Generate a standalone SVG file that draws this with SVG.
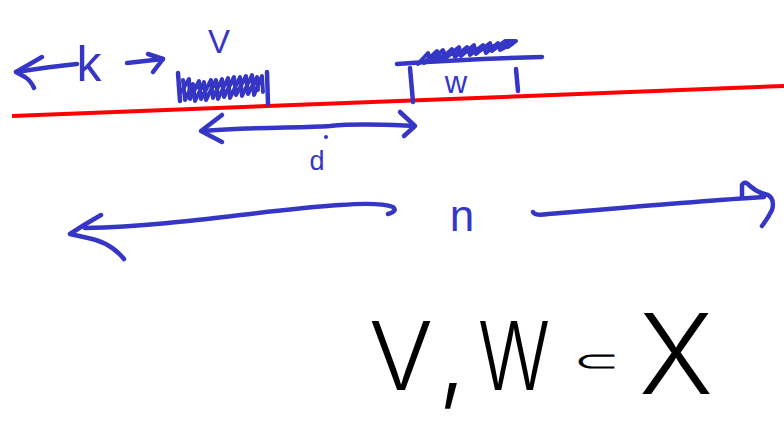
<svg xmlns="http://www.w3.org/2000/svg" width="784" height="425" viewBox="0 0 784 425">
<style>
.ink{fill:none;stroke:#3636c6;stroke-width:4.5;stroke-linecap:round;stroke-linejoin:round}
.hatch{fill:none;stroke:#3636c6;stroke-width:4;stroke-linecap:round;stroke-linejoin:round}
.bt{fill:#3636c6;font-family:"Liberation Sans",Arial,sans-serif;text-anchor:middle}
.kt{fill:#000;font-family:Inter,"Open Sans","Liberation Sans",sans-serif;font-weight:300;text-anchor:middle}
</style>
<rect width="784" height="425" fill="#fff"/>
<g id="axis">
<path d="M12,116 L784,86" fill="none" stroke="#ff0000" stroke-width="4"/>
</g>
<g id="node-V">
<text class="bt" x="219" y="53" font-size="33">V</text>
<path class="ink" d="M178,73 L180,101"/>
<path class="ink" d="M267,72 L268,104"/>
<path class="hatch" d="M183,80 L185,100 L193,84 L195,101 L204,82 L206,100 L216,80 L218,99 L228,78 L230,98 L240,77 L242,96 L252,75 L254,95 L262,76 L263,92"/>
<path class="hatch" d="M181,92 L189,79 L190,99 L199,81 L201,99 L211,80 L213,98 L222,79 L224,97 L234,77 L236,95 L246,76 L248,94 L257,77 L258,90"/>
</g>
<g id="node-W">
<path class="ink" d="M397,64 C440,61 500,58 542,57"/>
<path class="hatch" d="M418,64 L428,53 L431,61 L443,50 L446,58 L459,47 L461,56 L474,45 L476,54 L490,43 L492,51 L505,41 L516,41 L508,47"/>
<path class="hatch" d="M424,63 L437,51 L440,60 L452,49 L455,57 L467,47 L470,55 L483,45 L486,53 L498,43 L500,50 L512,44"/>
<path class="hatch" d="M430,60 L446,55 L462,52 L478,49 L494,46 L508,44"/>
<path class="ink" d="M410,68 L413,102"/>
<path class="ink" d="M516,69 L518,91"/>
<text class="bt" x="456" y="93" font-size="31">w</text>
</g>
<g id="node-k">
<text class="bt" x="89" y="81" font-size="50">k</text>
</g>
<g id="node-d">
<text class="bt" x="317" y="170" font-size="27">d</text>
<circle cx="326" cy="137" r="2" fill="#3636c6"/>
</g>
<g id="node-n">
<text class="bt" x="462" y="231" font-size="44">n</text>
</g>
<g id="connectors">
<path class="ink" d="M77,64 C58,66 36,69 16,72"/>
<path class="ink" d="M42,57 L16,72 L25,77 Q31,81 34,88"/>
<path class="ink" d="M127,63 L163,59"/>
<path class="ink" d="M148,54 L163,59 L153,72"/>
<path class="ink" d="M202,131 C250,127 300,128 330,126 C360,123 390,125 414,126"/>
<path class="ink" d="M222,115 L201,131 L222,142"/>
<path class="ink" d="M400,112 L415,126 L404,136"/>
<path class="ink" d="M388,214 Q398,211 393,207 Q380,202 340,205 C260,210 180,226 85,228"/>
<path class="ink" d="M101,215 L84,225 L70,234 L88,238 Q110,242 124,259"/>
<path class="ink" d="M533,212 Q535,216 548,214 C620,208 700,201 764,197"/>
<path class="ink" d="M742,197 L742,185 Q745,180 750,186 Q758,193 768,195 Q775,199 772,210 Q768,218 762,226"/>
</g>
<g id="node-formula">
<text class="kt" x="401" y="390" font-size="95">V</text>
<text class="kt" x="452" y="392" font-size="100">,</text>
<text class="kt" x="514" y="390" font-size="95" textLength="72" lengthAdjust="spacingAndGlyphs">W</text>
<text class="kt" transform="translate(597,371) scale(1.4,0.75)" font-size="40" style="font-family:'DejaVu Sans',sans-serif">⊂</text>
<text class="kt" x="676" y="394" font-size="112">X</text>
</g>
</svg>
